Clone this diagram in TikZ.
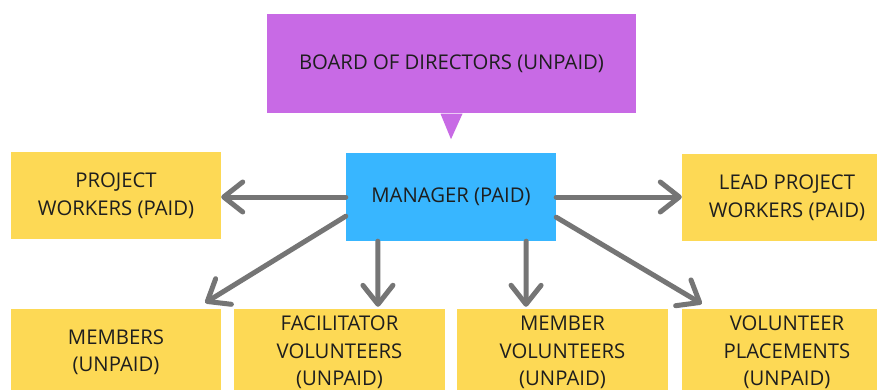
\documentclass[tikz,border=0pt]{standalone}
\usepackage{fontspec}
\setmainfont{Open Sans}
\usetikzlibrary{arrows.meta,calc}
\definecolor{boardc}{HTML}{C86AE5}
\definecolor{mgrc}{HTML}{38B6FF}
\definecolor{boxc}{HTML}{FDD955}
\definecolor{arrc}{HTML}{757575}
\definecolor{txtc}{HTML}{1E1E1E}
\tikzset{
  box/.style={fill=boxc, draw=none, minimum width=210pt, minimum height=87pt, inner sep=0pt,
    align=center, text=txtc, font=\fontsize{20.3}{27.5}\selectfont},
  conn/.style={draw=arrc, line width=5pt, line cap=round,
    -{Straight Barb[length=19pt, width=30pt, line cap=round, line join=round]}},
}
\begin{document}
\begin{tikzpicture}[x=1pt,y=-1pt]
\useasboundingbox (0,0) rectangle (877,390);
\clip (0,0) rectangle (877,390);
\fill[white] (0,0) rectangle (877,390);
% board
\node[box, fill=boardc, minimum width=369pt, minimum height=99pt] (board) at (451.5,63.5) {BOARD OF DIRECTORS (UNPAID)};
\fill[boardc] ($(board.south)+(-11,0.5)$) -- ($(board.south)+(11,0.5)$) -- ($(board.south)+(-0.5,26)$) -- cycle;
% manager
\node[box, fill=mgrc, minimum width=210pt, minimum height=88pt] (mgr) at (451,197) {MANAGER (PAID)};
\node[box] (pw) at (116,195.5) {PROJECT\\WORKERS (PAID)};
\node[box] (lpw) at (787,197.5) {LEAD PROJECT\\WORKERS (PAID)};
\node[box] (mem) at (116,352.5) {MEMBERS\\(UNPAID)};
\node[box, minimum width=211pt] (fac) at (339.5,352.5) {FACILITATOR\\VOLUNTEERS\\(UNPAID)};
\node[box, minimum width=211pt] (memvol) at (562.5,352.5) {MEMBER\\VOLUNTEERS\\(UNPAID)};
\node[box] (volpl) at (787,352.5) {VOLUNTEER\\PLACEMENTS\\(UNPAID)};
% connectors
\draw[conn] (mgr.west) -- (mgr.west -| pw.east);
\draw[conn] (mgr.east) -- (mgr.east -| lpw.west);
\draw[conn] ($(mgr.south west)+(0,-25)$) -- ($(mem.north east)+(-16,-6)$);
\draw[conn] ($(mgr.south west)+(32,0)$) -- ($(fac.north)+(38.5,-2)$);
\draw[conn] ($(mgr.south east)+(-30,0)$) -- ($(memvol.north)+(-36.5,-2)$);
\draw[conn] ($(mgr.south east)+(0,-24)$) -- ($(volpl.north west)+(20,-5)$);
\end{tikzpicture}
\end{document}
